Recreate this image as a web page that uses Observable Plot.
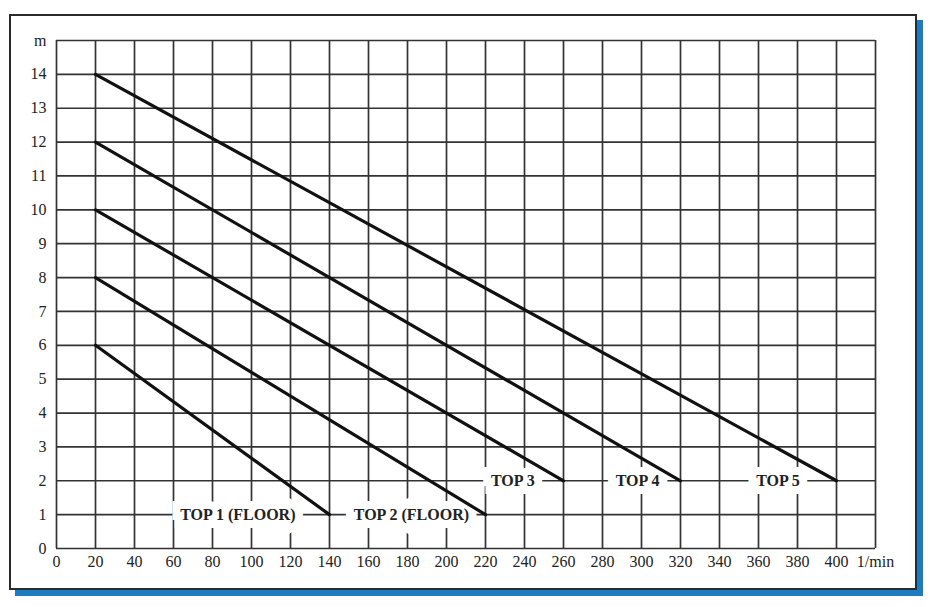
<!DOCTYPE html>
<html>
<head>
<meta charset="utf-8">
<script src="https://cdn.jsdelivr.net/npm/d3@7"></script>
<script src="https://cdn.jsdelivr.net/npm/@observablehq/plot@0.6"></script>
<style>
  body { margin: 0; background: #fff; }
  #frame { position: absolute; left: 9px; top: 14px; width: 904px; height: 572px;
           border: 2px solid #2b2b2b; box-shadow: 6px 6px 0 #1b7cc2; background: #fff; }
  #chart { position: absolute; left: 0; top: 0; }
</style>
</head>
<body>
<div id="frame"></div>
<div id="chart"></div>
<script>
// Pump curves: flow (l/min) vs head (m)
const models   = ["TOP 1 (FLOOR)", "TOP 2 (FLOOR)", "TOP 3", "TOP 4", "TOP 5"];
const flowStart = [20, 20, 20, 20, 20];
const headStart = [6, 8, 10, 12, 14];
const flowEnd   = [140, 220, 260, 320, 400];
const headEnd   = [1, 1, 2, 2, 2];

// Label anchor points (on the grid lines)
const labelFlow = [93, 182, 234, 298, 370];
const labelHead = [1, 1, 2, 2, 2];

// Ticks
const xGrid = [0,20,40,60,80,100,120,140,160,180,200,220,240,260,280,300,320,340,360,380,400,420];
const xTicks = [0,20,40,60,80,100,120,140,160,180,200,220,240,260,280,300,320,340,360,380,400];
const yGrid = [0,1,2,3,4,5,6,7,8,9,10,11,12,13,14,15];
const yTicks = [0,1,2,3,4,5,6,7,8,9,10,11,12,13,14];
const xUnit = "1/min";
const yUnit = "m";

const rows = [];
models.forEach((m, i) => {
  rows.push({model: m, flow: flowStart[i], head: headStart[i]});
  rows.push({model: m, flow: flowEnd[i], head: headEnd[i]});
});
const labels = models.map((m, i) => ({text: m, flow: labelFlow[i], head: labelHead[i]}));

const font = "'Liberation Serif', 'Times New Roman', serif";

const chart = Plot.plot({
  width: 930,
  height: 607,
  marginLeft: 56,
  marginRight: 55,
  marginTop: 40,
  marginBottom: 59,
  style: { fontFamily: font, fontSize: "16px", background: "transparent", color: "#222" },
  x: { domain: [0, 420], label: null },
  y: { domain: [0, 15], label: null },
  marks: [
    Plot.gridX(xGrid, { stroke: "#333", strokeOpacity: 1, strokeWidth: 1.7 }),
    Plot.gridY(yGrid, { stroke: "#333", strokeOpacity: 1, strokeWidth: 1.7 }),
    Plot.text(labels, { x: "flow", y: "head", text: "text", fontWeight: "bold", fontSize: 16,
      fill: "#222", stroke: "white", strokeWidth: 16, strokeLinejoin: "miter" }),
    Plot.line(rows, { x: "flow", y: "head", z: "model", stroke: "#111", strokeWidth: 3.2 }),
    Plot.axisX(xTicks, { tickSize: 0, tickPadding: 7, label: null, fontSize: 16 }),
    Plot.axisX([420], { tickSize: 0, tickPadding: 7, label: null, tickFormat: () => xUnit, dx: 0, fontSize: 16 }),
    Plot.axisY(yTicks, { tickSize: 0, tickPadding: 10, label: null, fontSize: 16 }),
    Plot.axisY([15], { tickSize: 0, tickPadding: 10, label: null, tickFormat: () => yUnit, fontSize: 16 })
  ]
});
document.getElementById("chart").append(chart);
</script>
</body>
</html>
